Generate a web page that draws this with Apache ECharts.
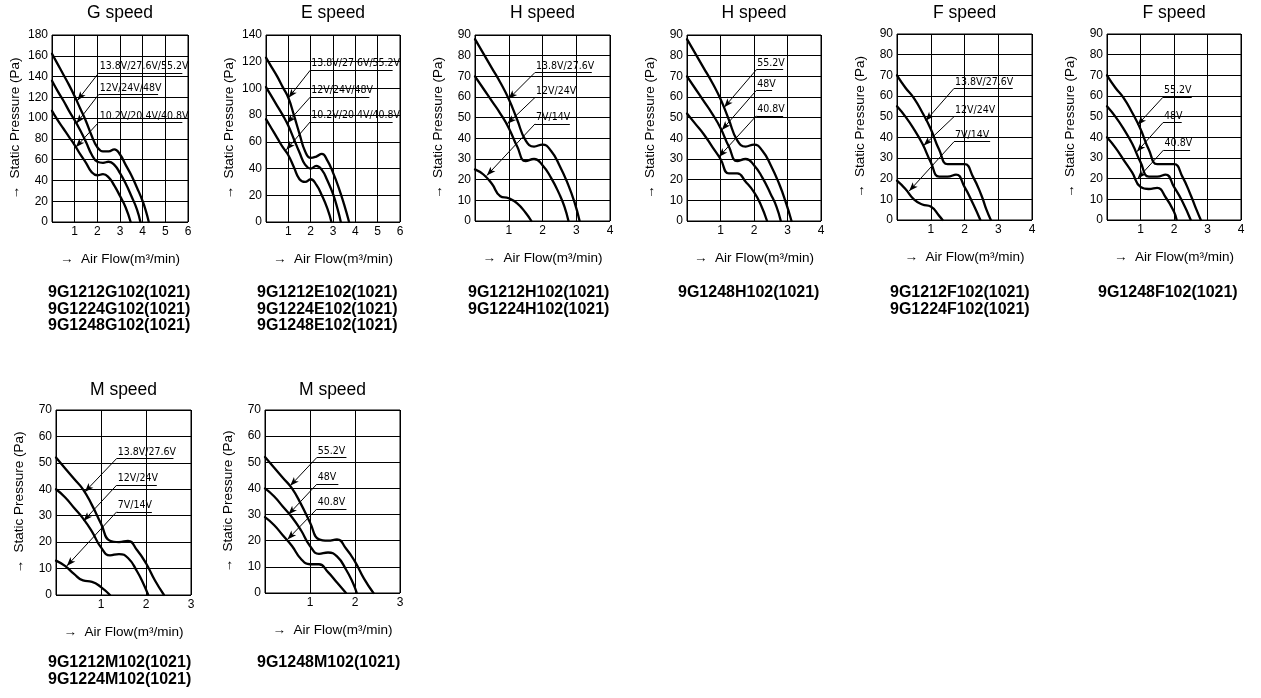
<!DOCTYPE html>
<html><head><meta charset="utf-8">
<script src="https://cdn.jsdelivr.net/npm/echarts@6/dist/echarts.min.js"></script>
<style>html,body{margin:0;padding:0;background:#fff}#c{width:1261px;height:698px}</style>
</head><body><div id="c"></div>
<script>
// ---------- data (x: air flow m3/min, y: static pressure Pa) ----------
const G_HI  = [[0,162],[0.25,152],[0.5,142],[0.75,132],[1,121],[1.25,109],[1.5,97],[1.75,83],[2.0,72],[2.25,68],[2.5,68],[2.75,70],[3.0,65],[3.25,55],[3.5,45],[3.75,33],[4.0,20],[4.15,10],[4.27,0]];
const G_MID = [[0,136],[0.25,126],[0.5,117],[0.75,107],[1,98],[1.25,88],[1.5,77],[1.75,65],[2.0,58],[2.25,57],[2.5,58],[2.75,55],[3.0,47],[3.25,37],[3.5,25],[3.75,12],[3.9,0]];
const G_LO  = [[0,107],[0.25,98],[0.5,90],[0.75,82],[1,74],[1.25,65],[1.5,57],[1.75,48],[2.0,45],[2.25,46],[2.5,43],[2.75,35],[3.0,25],[3.25,14],[3.47,0]];

const E_HI  = [[0,123],[0.25,116],[0.5,109],[0.75,101],[1,93],[1.25,80],[1.5,66],[1.75,53],[2.0,48],[2.25,49],[2.5,51],[2.75,46],[3.0,37],[3.25,26],[3.5,13],[3.72,0]];
const E_MID = [[0,101],[0.25,94],[0.5,87],[0.75,80],[1,72],[1.25,62],[1.5,52],[1.75,43],[2.0,40],[2.25,42],[2.5,39],[2.75,31],[3.0,21],[3.2,10],[3.35,0]];
const E_LO  = [[0,77],[0.25,70],[0.5,63],[0.75,56],[1,50],[1.25,41],[1.5,32],[1.75,30],[2.0,32],[2.25,28],[2.5,20],[2.75,10],[2.93,0]];

const H_HI  = [[0,88],[0.25,81],[0.5,74],[0.75,67],[1,59],[1.25,49],[1.5,39],[1.75,36],[2.0,37],[2.25,34],[2.5,27],[2.75,18],[2.95,9],[3.1,0]];
const H_MID = [[0,70],[0.25,64],[0.5,58],[0.75,52],[1,45],[1.25,36],[1.5,29],[1.75,30],[2.0,27],[2.25,21],[2.5,13],[2.65,7],[2.77,0]];
const H_LO  = [[0,25],[0.25,22.5],[0.5,18],[0.75,12],[1,11],[1.25,8.5],[1.5,4],[1.67,0]];

const H2_HI  = [[0,88],[0.25,81],[0.5,74],[0.75,67],[1,59],[1.25,49],[1.5,39],[1.75,36],[2.0,37],[2.25,34],[2.5,27],[2.75,18],[2.95,9],[3.12,0]];
const H2_MID = [[0,70],[0.25,64],[0.5,58],[0.75,52],[1,45],[1.25,36],[1.5,29],[1.75,30],[2.0,27],[2.25,21],[2.5,13],[2.67,7],[2.8,0]];
const H2_LO  = [[0,52],[0.25,47],[0.5,42],[0.75,36],[1,30],[1.25,23],[1.5,23],[1.75,19],[2.0,14],[2.2,8],[2.39,0]];

const F_HI  = [[0,70],[0.25,64],[0.5,59],[0.75,52],[1,44],[1.25,34],[1.5,27],[1.75,27],[2.0,27],[2.25,21],[2.5,12],[2.65,5],[2.78,0]];
const F_MID = [[0,55],[0.25,50],[0.5,44],[0.75,37],[1,28],[1.25,21],[1.5,21],[1.75,22],[2.0,16],[2.25,8],[2.47,0]];
const F_LO  = [[0,19],[0.25,15],[0.5,10],[0.75,7.5],[1,6.5],[1.25,2],[1.35,0]];

const F2_HI  = [[0,70],[0.25,64],[0.5,59],[0.75,52],[1,44],[1.25,34],[1.5,27],[1.75,27],[2.0,27],[2.25,21],[2.5,12],[2.67,5],[2.8,0]];
const F2_MID = [[0,55],[0.25,50],[0.5,44],[0.75,37],[1,28],[1.25,21],[1.5,21],[1.75,22],[2.0,16],[2.25,9],[2.5,0]];
const F2_LO  = [[0,40],[0.25,35],[0.5,29],[0.75,23],[1,16],[1.25,15],[1.5,15.5],[1.75,11],[2.0,4],[2.08,0]];

const M_HI  = [[0,52],[0.2,48],[0.4,44],[0.6,40],[0.8,34],[1.0,27],[1.2,20.5],[1.4,20],[1.6,20.5],[1.8,17],[2.0,12],[2.2,5.5],[2.4,0]];
const M_MID = [[0,40],[0.2,37],[0.4,33],[0.6,29],[0.8,24],[1.0,18],[1.2,15],[1.4,15.5],[1.6,14],[1.8,9],[1.95,4],[2.05,0]];
const M_LO  = [[0,13],[0.2,11],[0.4,8],[0.6,5.5],[0.8,5],[1.0,3],[1.2,0]];

const M2_HI  = [[0,52],[0.2,48],[0.4,44],[0.6,40],[0.8,34],[1.0,27],[1.2,20.5],[1.4,20],[1.6,20.5],[1.8,17],[2.0,12],[2.2,5.5],[2.41,0]];
const M2_MID = [[0,40],[0.2,37],[0.4,33],[0.6,29],[0.8,24],[1.0,18],[1.2,15],[1.4,15.5],[1.6,14],[1.8,9],[1.95,4],[2.04,0]];
const M2_LO  = [[0,29],[0.2,26],[0.4,22],[0.6,18],[0.8,13],[1.0,11],[1.2,11],[1.4,8],[1.6,4],[1.8,0]];

// annotation: [label, arrow tip, leader start (=underline start), underline end x]
const G_NOTES  = [['13.8V/27.6V/55.2V',[1.12,117],[2.06,143.5],5.75],['12V/24V/48V',[1.08,95],[2.06,122.7],4.68],['10.2V/20.4V/40.8V',[1.05,72],[2.06,96],5.75]];
const E_NOTES  = [['13.8V/27.6V/55.2V',[1.01,93],[1.98,113.6],5.67],['12V/24V/48V',[0.94,74],[1.98,93.5],4.63],['10.2V/20.4V/40.8V',[0.91,54],[1.98,75],5.67]];
const H_NOTES  = [['13.8V/27.6V',[0.99,59],[1.78,71.9],3.46],['12V/24V',[0.96,47],[1.78,59.8],2.96],['7V/14V',[0.35,22],[1.78,47],2.81]];
const H2_NOTES = [['55.2V',[1.11,55],[2.07,73.2],2.87],['48V',[1.04,44],[2.07,63.2],2.54],['40.8V',[0.95,31],[2.07,50.9],2.87]];
const F_NOTES  = [['13.8V/27.6V',[0.85,48],[1.69,63.7],3.43],['12V/24V',[0.79,36],[1.69,50],2.93],['7V/14V',[0.36,14],[1.69,37.9],2.76]];
const F2_NOTES = [['55.2V',[0.91,46],[1.67,59.4],2.53],['48V',[0.89,33],[1.67,47.1],2.23],['40.8V',[0.91,20],[1.69,33.9],2.48]];
const M_NOTES  = [['13.8V/27.6V',[0.64,39],[1.35,51.7],2.61],['12V/24V',[0.61,28],[1.35,41.6],2.24],['7V/14V',[0.24,11],[1.35,31.5],2.13]];
const M2_NOTES = [['55.2V',[0.56,41],[1.15,51.8],1.81],['48V',[0.52,30],[1.15,41.6],1.63],['40.8V',[0.5,20.5],[1.15,32.1],1.81]];

const TITLES = ['G speed','E speed','H speed','H speed','F speed','F speed','M speed','M speed'];
const MODELS = [
  ['9G1212G102(1021)','9G1224G102(1021)','9G1248G102(1021)'],
  ['9G1212E102(1021)','9G1224E102(1021)','9G1248E102(1021)'],
  ['9G1212H102(1021)','9G1224H102(1021)'],
  ['9G1248H102(1021)'],
  ['9G1212F102(1021)','9G1224F102(1021)'],
  ['9G1248F102(1021)'],
  ['9G1212M102(1021)','9G1224M102(1021)'],
  ['9G1248M102(1021)']
];
const X_MAX = [6,6,4,4,4,4,3,3];
const Y_MAX = [180,140,90,90,90,90,70,70];
const Y_STEP = [20,20,10,10,10,10,10,10];
const CURVES = [[G_HI,G_MID,G_LO],[E_HI,E_MID,E_LO],[H_HI,H_MID,H_LO],[H2_HI,H2_MID,H2_LO],[F_HI,F_MID,F_LO],[F2_HI,F2_MID,F2_LO],[M_HI,M_MID,M_LO],[M2_HI,M2_MID,M2_LO]];
const NOTES = [G_NOTES,E_NOTES,H_NOTES,H2_NOTES,F_NOTES,F2_NOTES,M_NOTES,M2_NOTES];
const X_NAME = '→  Air Flow(m³/min)';
const Y_NAME = '→  Static Pressure (Pa)';

// ---------- layout ----------
const LAYOUT = [
  {left:52, top:35, width:136, height:187, row:0, textX:48},
  {left:266, top:35, width:134, height:187, row:0, textX:257},
  {left:475, top:35, width:135, height:186, row:0, textX:468},
  {left:687, top:35, width:134, height:186, row:0, textX:678},
  {left:897, top:34, width:135, height:186, row:0, textX:890},
  {left:1107, top:34, width:134, height:186, row:0, textX:1098},
  {left:56, top:410, width:135, height:185, row:1, textX:48},
  {left:265, top:410, width:135, height:183, row:1, textX:257}
];
const ROW_TITLE_Y = [13, 390];
const ROW_MODEL_Y = [293, 663];
const FONT = '"Liberation Sans", Arial, sans-serif';
const NARROW = '"Liberation Sans Narrow", "Arial Narrow", "DejaVu Sans Condensed", sans-serif';

function buildNotes(notes){
  const data = [];
  notes.forEach(n => {
    const [text, tip, start, endX] = n;
    data.push([{coord:start, symbol:'none', label:{show:false}}, {coord:tip, symbol:'arrow'}]);
    data.push([{coord:start, symbol:'none', name:text}, {coord:[endX, start[1]], symbol:'none'}]);
  });
  return {
    silent:true, animation:false, symbolSize:[5,9], precision:2,
    lineStyle:{color:'#000', width:1, type:'solid'},
    label:{show:true, position:'insideStartTop', formatter:'{b}', distance:1, color:'#000', fontSize:10.5, fontFamily:NARROW},
    emphasis:{disabled:true},
    data
  };
}

const grids = [], xAxes = [], yAxes = [], series = [], graphics = [];
for (let i = 0; i < 8; i++) {
  const L = LAYOUT[i];
  grids.push({left:L.left, top:L.top, width:L.width, height:L.height, show:true, borderColor:'#000', borderWidth:1});
  xAxes.push({
    gridIndex:i, type:'value', min:0, max:X_MAX[i], interval:1,
    name:X_NAME, nameLocation:'middle', nameGap:30,
    nameTextStyle:{color:'#000', fontSize:13.5, fontFamily:FONT},
    axisLine:{show:false}, axisTick:{show:false},
    splitLine:{show:true, lineStyle:{color:'#000', width:1}},
    axisLabel:{margin:4, fontSize:12, color:'#000', fontFamily:FONT, formatter:v => v === 0 ? '' : String(v)}
  });
  yAxes.push({
    gridIndex:i, type:'value', min:0, max:Y_MAX[i], interval:Y_STEP[i],
    name:Y_NAME, nameLocation:'middle', nameRotate:90, nameGap:30,
    nameTextStyle:{color:'#000', fontSize:13.5, fontFamily:FONT},
    axisLine:{show:false}, axisTick:{show:false},
    splitLine:{show:true, lineStyle:{color:'#000', width:1}},
    axisLabel:{margin:4, fontSize:12, color:'#000', fontFamily:FONT}
  });
  CURVES[i].forEach((c, k) => {
    const s = {
      type:'line', xAxisIndex:i, yAxisIndex:i, data:c,
      smooth:0.5, showSymbol:false, symbol:'none', sampling:null,
      lineStyle:{color:'#000', width:2.3, join:'round', cap:'round'}, silent:true, animation:false
    };
    if (k === 0) s.markLine = buildNotes(NOTES[i]);
    series.push(s);
  });
  graphics.push({type:'text', x:L.left + L.width/2, y:ROW_TITLE_Y[L.row], silent:true,
    style:{text:TITLES[i], fill:'#000', font:'17.5px ' + FONT, align:'center', verticalAlign:'middle'}});
  MODELS[i].forEach((m, j) => {
    graphics.push({type:'text', x:L.textX, y:ROW_MODEL_Y[L.row] + j*16.5, silent:true,
      style:{text:m, fill:'#000', font:'bold 16px ' + FONT, align:'left', verticalAlign:'middle'}});
  });
}

const chart = echarts.init(document.getElementById('c'), null, {renderer:'canvas'});
chart.setOption({
  backgroundColor:'#fff', animation:false,
  grid:grids, xAxis:xAxes, yAxis:yAxes, series, graphic:graphics
});
</script></body></html>
